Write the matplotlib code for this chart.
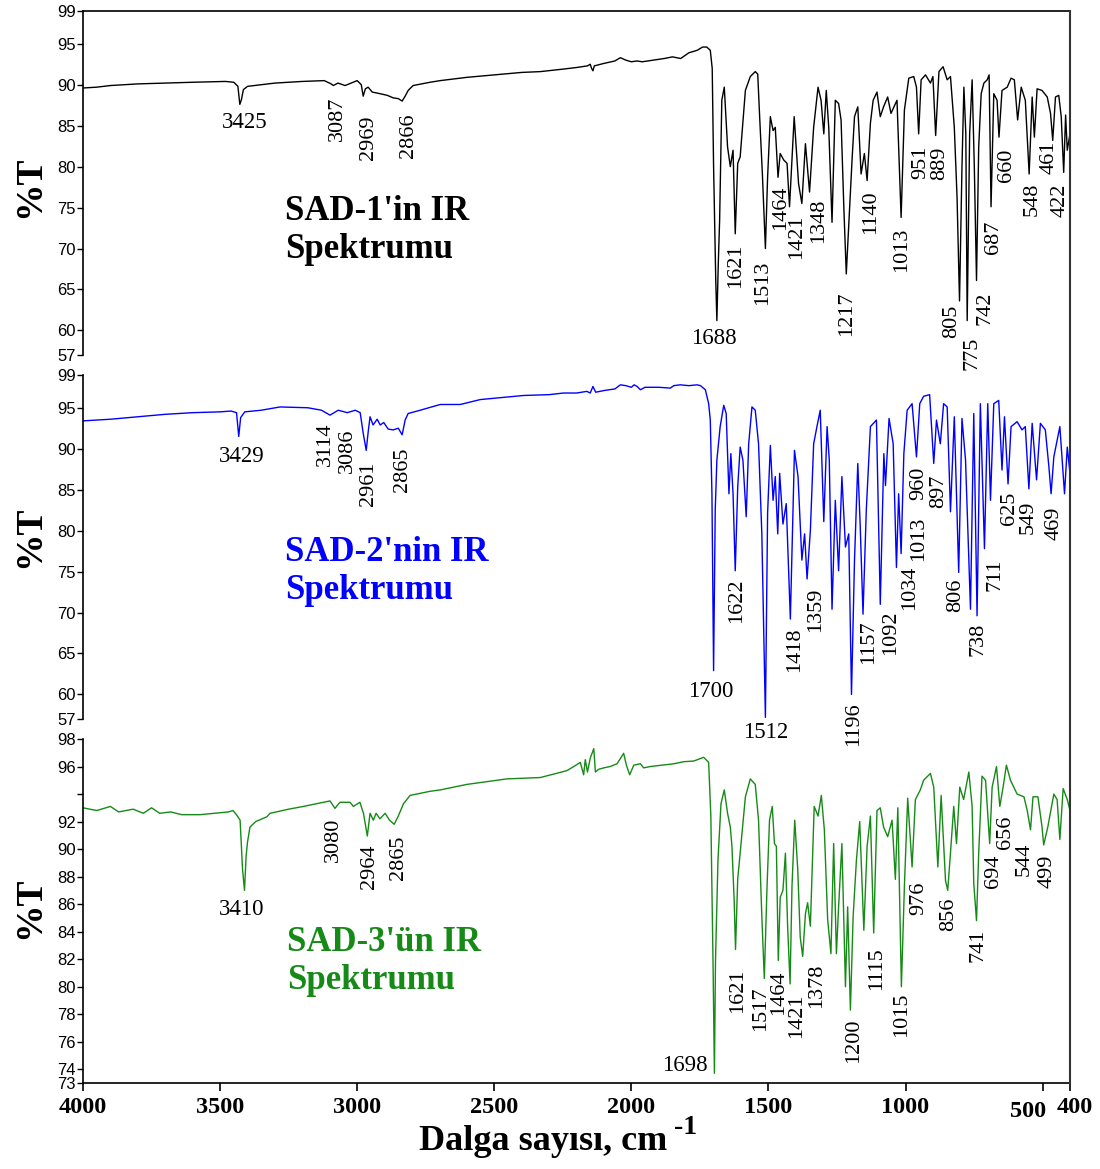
import matplotlib
matplotlib.use("Agg")
import matplotlib.pyplot as plt
from matplotlib.lines import Line2D
from matplotlib.transforms import ScaledTranslation

# ---- spectra (wavenumber cm-1, %T) ----
wn1 = [4000, 3950, 3900, 3850, 3800, 3700, 3600, 3480, 3450, 3435, 3428, 3422, 3415, 3400, 3350,
       3300, 3200, 3120, 3095, 3087, 3070, 3044, 3000, 2985, 2978, 2970, 2960, 2945, 2916, 2890,
       2869, 2850, 2836, 2825, 2814, 2796, 2734, 2697, 2600, 2500, 2400, 2332, 2250, 2200, 2160,
       2150, 2145, 2140, 2135, 2100, 2060, 2040, 2020, 2000, 1980, 1960, 1920, 1880, 1850, 1820,
       1790, 1760, 1740, 1725, 1712, 1705, 1700, 1692, 1688, 1683, 1678, 1670, 1661, 1655, 1649,
       1639, 1629, 1621, 1612, 1603, 1584, 1566, 1548, 1539, 1532, 1522, 1511, 1503, 1493, 1483,
       1475, 1465, 1457, 1444, 1432, 1423, 1406, 1390, 1378, 1365, 1350, 1335, 1319, 1308, 1298,
       1289, 1280, 1268, 1256, 1244, 1235, 1225, 1216, 1206, 1195, 1186, 1174, 1162, 1150, 1140,
       1128, 1118, 1104, 1092, 1080, 1065, 1053, 1031, 1016, 1004, 988, 970, 960, 952, 943,
       927, 909, 900, 890, 878, 863, 848, 836, 822, 812, 803, 794, 787, 780, 775,
       766, 757, 749, 741, 733, 724, 714, 702, 695, 688, 678, 666, 659, 648, 629,
       615, 603, 591, 578, 563, 549, 538, 530, 520, 502, 483, 471, 463, 453, 441,
       432, 423, 416, 410, 404, 400]
t1 = [89.6, 89.7, 89.9, 90.0, 90.1, 90.2, 90.3, 90.4, 90.3, 89.8, 87.6, 88.2, 89.4, 89.8, 90.0,
      90.2, 90.4, 90.5, 90.1, 89.9, 90.2, 89.9, 90.5, 90.0, 88.6, 89.5, 89.7, 89.1, 88.9, 88.7,
      88.4, 88.3, 88.0, 88.6, 89.3, 89.9, 90.3, 90.5, 90.9, 91.2, 91.5, 91.6, 91.9, 92.1, 92.3,
      92.5, 92.0, 91.7, 92.3, 92.6, 92.9, 93.3, 93.0, 92.8, 92.9, 92.8, 93.0, 93.2, 93.4, 93.2,
      93.9, 94.2, 94.6, 94.6, 94.2, 92.0, 80.0, 66.0, 61.2, 68.0, 73.4, 88.1, 89.7, 86.0, 82.4,
      80.0, 82.0, 71.8, 80.4, 81.2, 89.3, 91.0, 91.6, 91.3, 86.1, 79.1, 70.0, 78.7, 86.1, 84.4,
      84.8, 78.7, 81.6, 80.8, 80.4, 75.1, 86.1, 77.9, 75.5, 82.8, 76.9, 84.8, 89.7, 88.1, 84.0,
      89.3, 84.8, 73.2, 88.1, 87.7, 85.7, 75.1, 66.9, 73.4, 80.8, 86.1, 87.3, 79.1, 81.6, 78.3,
      85.3, 88.1, 89.1, 86.1, 87.3, 88.5, 86.5, 88.1, 73.8, 86.9, 90.8, 91.0, 89.7, 84.0, 90.6,
      91.2, 90.2, 91.0, 83.8, 91.6, 92.2, 90.6, 91.0, 84.8, 76.3, 63.6, 80.0, 89.7, 84.0, 61.2,
      84.0, 90.6, 80.0, 66.1, 82.4, 88.9, 90.2, 90.6, 91.2, 75.1, 88.9, 88.1, 83.6, 89.3, 89.7,
      90.8, 90.6, 85.7, 89.7, 88.1, 79.1, 88.5, 83.6, 89.5, 89.3, 88.5, 86.5, 83.2, 88.5, 88.7,
      86.1, 79.3, 86.3, 82.0, 83.2, 84.0]

wn2 = [4000, 3900, 3800, 3700, 3600, 3500, 3460, 3440, 3432, 3425, 3410, 3350, 3281, 3180, 3130,
       3099, 3069, 3036, 3007, 2989, 2978, 2967, 2960, 2953, 2942, 2927, 2916, 2903, 2887, 2869,
       2850, 2836, 2825, 2814, 2770, 2697, 2624, 2551, 2393, 2300, 2247, 2200, 2162, 2150, 2140,
       2130, 2100, 2060, 2040, 2020, 2000, 1990, 1979, 1967, 1950, 1900, 1858, 1845, 1822, 1790,
       1760, 1748, 1730, 1718, 1712, 1706, 1700, 1694, 1688, 1676, 1663, 1654, 1644, 1637, 1629,
       1621, 1612, 1603, 1593, 1581, 1572, 1560, 1548, 1536, 1524, 1511, 1503, 1493, 1483, 1475,
       1466, 1459, 1447, 1435, 1420, 1405, 1392, 1378, 1368, 1359, 1347, 1335, 1323, 1311, 1298,
       1286, 1278, 1268, 1256, 1244, 1232, 1219, 1207, 1197, 1186, 1174, 1165, 1155, 1143, 1128,
       1106, 1092, 1079, 1073, 1060, 1045, 1033, 1025, 1016, 1006, 994, 976, 960, 948, 934,
       912, 897, 887, 873, 861, 848, 836, 822, 806, 794, 781, 763, 751, 739, 727,
       712, 700, 690, 678, 660, 648, 639, 626, 615, 593, 575, 563, 550, 538, 522,
       508, 490, 477, 469, 459, 437, 420, 410, 400]
t2 = [93.4, 93.6, 93.9, 94.2, 94.4, 94.5, 94.6, 94.4, 91.5, 93.8, 94.5, 94.7, 95.1, 95.0, 94.7,
      94.1, 94.7, 94.4, 94.7, 94.4, 91.9, 89.8, 92.0, 93.9, 92.9, 93.6, 92.9, 93.2, 92.4, 92.3,
      92.5, 91.7, 93.5, 94.3, 94.7, 95.4, 95.4, 96.0, 96.5, 96.6, 96.8, 96.8, 97.0, 96.8, 97.6,
      96.9, 97.1, 97.3, 97.8, 97.7, 97.5, 97.8, 97.6, 97.2, 97.5, 97.5, 97.4, 97.7, 97.8, 97.7,
      97.8, 97.7, 97.2, 95.5, 93.5, 84.5, 62.9, 82.5, 88.6, 92.7, 95.3, 94.3, 84.5, 89.4, 84.5,
      75.1, 85.3, 90.2, 88.6, 81.7, 90.6, 95.1, 94.7, 90.6, 79.6, 57.2, 82.1, 90.4, 83.7, 86.6,
      79.6, 87.0, 80.8, 83.3, 69.2, 89.8, 86.6, 76.4, 79.6, 74.1, 80.0, 90.6, 92.7, 94.7, 81.1,
      92.7, 88.6, 70.4, 83.7, 75.1, 86.6, 78.0, 79.6, 60.0, 76.4, 88.2, 80.4, 69.8, 82.5, 92.7,
      93.5, 71.0, 89.4, 85.5, 93.7, 90.6, 75.5, 84.5, 77.2, 89.4, 94.7, 95.5, 89.0, 95.5, 96.4,
      96.6, 88.2, 93.5, 90.6, 95.5, 95.1, 82.3, 93.9, 74.9, 93.7, 88.6, 70.4, 94.3, 69.6, 95.5,
      77.8, 95.5, 83.7, 95.5, 95.9, 87.4, 93.9, 85.7, 92.7, 93.3, 92.3, 92.7, 85.1, 93.1, 86.2,
      93.1, 92.3, 87.8, 84.5, 89.0, 92.7, 84.5, 90.2, 87.0]

wn3 = [4000, 3950, 3900, 3870, 3817, 3780, 3750, 3720, 3680, 3640, 3573, 3520, 3470, 3453, 3440,
       3427, 3418, 3411, 3405, 3400, 3391, 3370, 3329, 3318, 3250, 3196, 3099, 3081, 3063, 3026,
       3014, 2990, 2977, 2963, 2953, 2941, 2931, 2917, 2898, 2882, 2865, 2850, 2831, 2807, 2734,
       2697, 2600, 2454, 2332, 2235, 2210, 2186, 2174, 2168, 2160, 2150, 2137, 2131, 2119, 2101,
       2077, 2052, 2028, 2018, 2006, 1991, 1967, 1955, 1931, 1845, 1809, 1772, 1736, 1718, 1710,
       1702, 1697, 1693, 1684, 1673, 1661, 1649, 1639, 1633, 1625, 1620, 1612, 1600, 1584, 1566,
       1548, 1536, 1524, 1515, 1505, 1496, 1486, 1478, 1471, 1464, 1457, 1447, 1438, 1430, 1421,
       1414, 1404, 1393, 1384, 1375, 1365, 1357, 1347, 1333, 1319, 1307, 1296, 1284, 1272, 1262,
       1252, 1244, 1232, 1219, 1211, 1201, 1191, 1179, 1167, 1152, 1140, 1128, 1116, 1104, 1092,
       1080, 1065, 1049, 1037, 1028, 1015, 1004, 992, 976, 964, 946, 934, 909, 897, 882,
       870, 854, 846, 836, 824, 814, 802, 788, 769, 757, 751, 741, 733, 721, 708,
       693, 684, 668, 656, 644, 632, 617, 593, 568, 556, 544, 535, 517, 502, 496,
       481, 459, 447, 437, 425, 410, 400]
t3 = [93.0, 92.8, 93.1, 92.7, 92.9, 92.6, 93.0, 92.6, 92.7, 92.5, 92.5, 92.6, 92.7, 92.8, 92.5,
      92.1, 88.5, 87.0, 89.5, 90.5, 91.6, 92.0, 92.35, 92.6, 92.9, 93.1, 93.5, 92.96, 93.4, 93.4,
      93.1, 93.4, 92.6, 90.95, 92.6, 92.1, 92.6, 92.2, 92.6, 92.1, 91.8, 92.4, 93.3, 93.9, 94.2,
      94.3, 94.7, 95.1, 95.2, 95.7, 96.0, 96.3, 95.4, 96.5, 95.6, 96.6, 97.3, 95.6, 95.8, 95.9,
      96.0, 96.2, 96.96, 96.1, 95.4, 96.1, 96.2, 95.9, 96.0, 96.2, 96.35, 96.4, 96.67, 96.3, 92.4,
      81.7, 73.7, 81.9, 89.2, 93.3, 94.3, 92.6, 91.6, 90.2, 86.3, 82.7, 87.8, 90.4, 93.8, 95.1,
      94.7, 92.1, 85.1, 80.6, 87.3, 92.1, 93.1, 90.4, 90.2, 81.9, 86.5, 87.0, 89.7, 84.4, 80.2,
      87.3, 92.1, 88.5, 83.6, 82.2, 85.3, 86.1, 84.4, 93.1, 92.4, 93.9, 91.4, 84.9, 82.4, 90.4,
      82.4, 85.8, 90.4, 80.0, 85.8, 78.3, 85.1, 89.2, 92.0, 84.1, 90.2, 92.4, 83.9, 92.8, 93.0,
      91.6, 90.9, 92.1, 87.8, 93.0, 80.0, 87.3, 93.7, 88.7, 93.6, 94.3, 95.0, 95.5, 94.5, 88.7,
      93.9, 87.7, 87.0, 89.7, 93.1, 90.4, 94.5, 93.6, 95.6, 93.1, 87.5, 84.8, 89.7, 95.3, 95.0,
      90.4, 94.5, 96.0, 93.1, 94.5, 96.1, 95.0, 94.0, 93.8, 92.8, 91.4, 93.8, 93.8, 91.6, 90.3,
      91.6, 94.0, 93.6, 90.7, 94.4, 93.6, 92.8]

titles = ["SAD-1'in IR\nSpektrumu", "SAD-2'nin IR\nSpektrumu", "SAD-3'ün IR\nSpektrumu"]
colors = ["black", "#0000ff", "#168a16"]

# peak labels: (text, x, y, rotated)
peaks1 = [("3425", 3412, 85.4, False), ("3087", 3073, 88.5, True), ("2969", 2960, 86.3, True),
          ("2866", 2814, 86.5, True), ("1688", 1700, 59.0, False), ("1621", 1621, 70.6, True),
          ("1513", 1523, 68.5, True), ("1464", 1457, 77.7, True), ("1421", 1396, 74.2, True),
          ("1348", 1317, 76.1, True), ("1217", 1213, 64.7, True), ("1140", 1128, 77.1, True),
          ("1013", 1013, 72.6, True), ("951", 945, 82.6, True), ("889", 875, 82.4, True),
          ("805", 830, 63.2, True), ("775", 757, 59.3, True), ("742", 711, 64.7, True),
          ("687", 678, 73.4, True), ("660", 632, 82.2, True), ("548", 538, 78.1, True),
          ("461", 477, 83.2, True), ("422", 437, 77.9, True)]
peaks2 = [("3429", 3420, 89.0, False), ("3114", 3117, 93.2, True), ("3086", 3036, 92.5, True),
          ("2961", 2960, 88.4, True), ("2865", 2836, 90.1, True), ("1700", 1712, 60.4, False),
          ("1622", 1617, 74.1, True), ("1512", 1511, 55.4, False), ("1418", 1405, 68.2, True),
          ("1359", 1329, 73.1, True), ("1196", 1190, 59.0, True), ("1157", 1134, 69.0, True),
          ("1092", 1055, 70.2, True), ("1034", 985, 75.7, True), ("1013", 952, 81.7, True),
          ("960", 952, 87.8, True), ("897", 879, 86.8, True), ("806", 818, 74.1, True),
          ("738", 736, 68.8, True), ("711", 672, 76.6, True), ("625", 620, 84.7, True),
          ("549", 553, 83.7, True), ("469", 459, 82.9, True)]
peaks3 = [("3410", 3420, 85.6, False), ("3080", 3088, 92.3, True), ("2964", 2956, 90.3, True),
          ("2865", 2850, 91.0, True), ("1698", 1803, 74.3, False), ("1621", 1612, 81.3, True),
          ("1517", 1530, 80.0, True), ("1464", 1463, 81.2, True), ("1421", 1396, 79.5, True),
          ("1378", 1323, 81.7, True), ("1200", 1191, 77.7, True), ("1115", 1104, 82.9, True),
          ("1015", 1013, 79.6, True), ("976", 952, 87.6, True), ("856", 842, 86.5, True),
          ("741", 736, 84.2, True), ("694", 678, 89.6, True), ("656", 635, 92.4, True),
          ("544", 568, 90.5, True), ("499", 483, 89.6, True)]

yticks12 = [57, 60, 65, 70, 75, 80, 85, 90, 95, 99]
yticks3 = [73, 74, 76, 78, 80, 82, 84, 86, 88, 90, 92, 94, 96, 98]
yticklabels3 = ["73", "74", "76", "78", "80", "82", "84", "86", "88", "90", "92", "", "96", "98"]
xticks = [4000, 3500, 3000, 2500, 2000, 1500, 1000, 500, 400]

fig = plt.figure(figsize=(11, 11.69), dpi=100)
left, width = 83 / 1100, 987 / 1100
H = 1169
panels = [(11, 355, 57, 99), (375, 719, 57, 99), (739, 1083, 73, 98)]
spectra = [(wn1, t1, peaks1), (wn2, t2, peaks2), (wn3, t3, peaks3)]
title_pos = [(3263, 76.5), (3263, 79.3), (3255, 84.4)]
ylab_y = [187, 537, 908]

serif = "Liberation Serif"
axes = []
for i, (top, bot, ymin, ymax) in enumerate(panels):
    ax = fig.add_axes([left, 1 - bot / H, width, (bot - top) / H])
    ax.set_facecolor("none")
    wn, t, peaks = spectra[i]
    ax.plot(wn, t, color=colors[i], lw=1.0)
    ax.set_xlim(4000, 400)
    ax.set_ylim(ymin, ymax)
    for s in ["right", "bottom", "top"]:
        ax.spines[s].set_visible(False)
    ax.spines["left"].set_linewidth(1.2)
    if i == 0:
        ax.spines["top"].set_visible(True)
        ax.spines["top"].set_linewidth(1.2)
    if i < 2:
        ax.set_yticks(yticks12)
        ax.set_xticks([])
    else:
        ax.set_yticks(yticks3)
        ax.set_yticklabels(yticklabels3)
        ax.spines["bottom"].set_visible(True)
        ax.spines["bottom"].set_linewidth(1.2)
        ax.set_xticks(xticks)
        ax.set_xticklabels([str(v) for v in xticks], fontfamily=serif,
                           fontweight="bold", fontsize=17.5)
        ax.tick_params(axis="x", length=6, width=1.2, pad=4)
        # 500 sits left of its tick and a bit lower, 400 at the axis end
        xl = ax.get_xticklabels()
        xl[-2].set_ha("right")
        xl[-2].set_transform(xl[-2].get_transform() +
                             ScaledTranslation(4 / 100, -4 / 100, fig.dpi_scale_trans))
        xl[-1].set_transform(xl[-1].get_transform() +
                             ScaledTranslation(5 / 100, 0, fig.dpi_scale_trans))
    ax.tick_params(axis="y", length=4, width=1.0, pad=1, labelsize=12)
    for lab in ax.get_yticklabels():
        lab.set_fontfamily("Liberation Sans")

    for txt, x, y, rot in peaks:
        if rot:
            ax.text(x, y, txt, rotation=90, ha="center", va="top", fontsize=16,
                    fontfamily=serif, clip_on=False, zorder=5)
        else:
            ax.text(x, y, txt, ha="center", va="center", fontsize=16.5,
                    fontfamily=serif, clip_on=False, zorder=5)

    tx, ty = title_pos[i]
    ax.text(tx, ty, titles[i], ha="left", va="top", fontsize=25, fontweight="bold",
            fontfamily=serif, color=colors[i], linespacing=1.2)

    fig.text(0.027, 1 - ylab_y[i] / H, "%T", rotation=90, ha="center", va="center",
             fontsize=27, fontweight="bold", fontfamily=serif)
    axes.append(ax)

# continuous right frame line
fig.add_artist(Line2D([left + width, left + width], [1 - 1083 / H, 1 - 11 / H],
                      transform=fig.transFigure, color="#333333", lw=1.5))

fig.text(667 / 1100, 1 - 1150 / H, "Dalga sayısı, cm", ha="right", va="baseline",
         fontsize=26, fontweight="bold", fontfamily=serif)
fig.text(674 / 1100, 1 - 1134 / H, "-1", ha="left", va="baseline",
         fontsize=20, fontweight="bold", fontfamily=serif)

fig.savefig("out.png", dpi=100)
